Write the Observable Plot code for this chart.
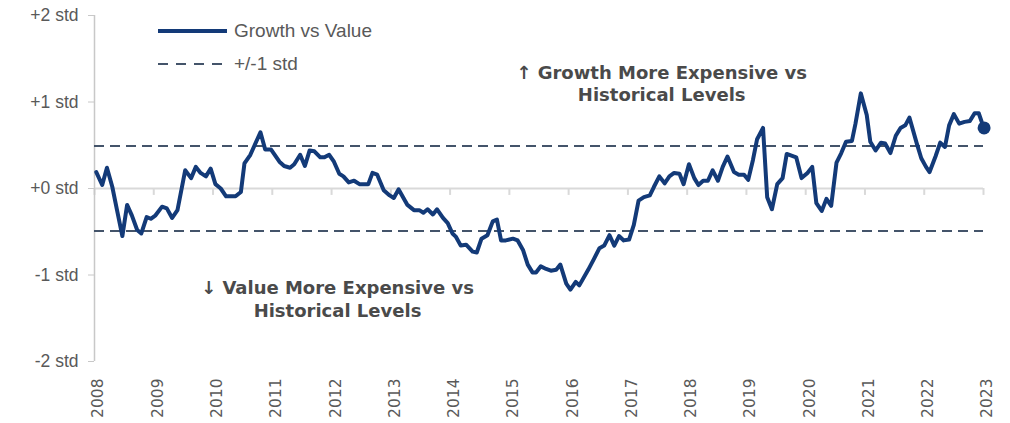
<!DOCTYPE html>
<html><head><meta charset="utf-8">
<script src="https://cdn.jsdelivr.net/npm/d3@7"></script>
<script src="https://cdn.jsdelivr.net/npm/@observablehq/plot@0.6"></script>
<style>
body{margin:0;background:#fff;}
#wrap{position:relative;width:1010px;height:423px;overflow:hidden;}
.legend{position:absolute;left:158px;top:14px;font-family:"Liberation Sans",Arial,sans-serif;font-size:19px;color:#595959;}
.legend .row{display:flex;align-items:center;height:33px;}
.legend svg{margin-right:6px;}
</style></head><body><div id="wrap"></div>
<script>
const dates = [2008.03,2008.13,2008.21,2008.30,2008.38,2008.47,2008.55,2008.63,2008.72,2008.79,2008.88,2008.95,
2009.03,2009.14,2009.22,2009.31,2009.40,2009.53,2009.63,2009.71,2009.79,2009.88,2009.96,
2010.04,2010.13,2010.22,2010.38,2010.47,2010.53,2010.63,2010.80,2010.88,2010.98,
2011.12,2011.20,2011.30,2011.37,2011.47,2011.55,2011.63,2011.71,2011.81,2011.88,2011.96,
2012.04,2012.13,2012.20,2012.29,2012.38,2012.47,2012.62,2012.69,2012.77,2012.88,2012.98,
2013.05,2013.13,2013.28,2013.39,2013.48,2013.55,2013.62,2013.71,2013.78,2013.88,2013.96,
2014.04,2014.10,2014.18,2014.27,2014.38,2014.45,2014.53,2014.63,2014.72,2014.79,2014.86,2014.94,
2015.06,2015.14,2015.23,2015.31,2015.39,2015.45,2015.53,2015.62,2015.70,2015.79,2015.86,2015.96,
2016.03,2016.12,2016.18,2016.33,2016.43,2016.52,2016.60,2016.69,2016.77,2016.85,2016.93,
2017.02,2017.10,2017.18,2017.27,2017.37,2017.44,2017.53,2017.62,2017.70,2017.78,2017.87,2017.94,
2018.03,2018.12,2018.19,2018.27,2018.35,2018.43,2018.52,2018.60,2018.68,2018.79,2018.87,2018.96,
2019.03,2019.11,2019.18,2019.28,2019.35,2019.43,2019.52,2019.61,2019.68,2019.76,2019.84,2019.93,
2020.03,2020.11,2020.18,2020.27,2020.35,2020.43,2020.52,2020.60,2020.68,2020.78,2020.84,2020.93,
2021.03,2021.09,2021.18,2021.27,2021.34,2021.43,2021.52,2021.60,2021.68,2021.75,2021.87,2021.95,
2022.03,2022.09,2022.19,2022.27,2022.35,2022.42,2022.50,2022.59,2022.68,2022.77,2022.85,2022.92,2022.97,2023.01];

const values = [0.19,0.04,0.24,0.02,-0.25,-0.55,-0.19,-0.31,-0.48,-0.52,-0.33,-0.35,
-0.31,-0.21,-0.23,-0.34,-0.25,0.21,0.12,0.25,0.18,0.14,0.23,
0.05,0.0,-0.09,-0.09,-0.04,0.29,0.39,0.65,0.45,0.45,
0.31,0.26,0.24,0.28,0.39,0.26,0.44,0.43,0.36,0.36,0.39,
0.31,0.17,0.14,0.07,0.09,0.05,0.05,0.18,0.16,-0.02,-0.08,
-0.11,-0.01,-0.19,-0.25,-0.25,-0.28,-0.24,-0.30,-0.24,-0.34,-0.40,
-0.52,-0.56,-0.66,-0.65,-0.73,-0.74,-0.58,-0.54,-0.38,-0.36,-0.60,-0.60,
-0.58,-0.60,-0.71,-0.88,-0.97,-0.97,-0.90,-0.93,-0.95,-0.94,-0.88,-1.10,
-1.17,-1.08,-1.12,-0.94,-0.81,-0.69,-0.66,-0.54,-0.66,-0.55,-0.60,
-0.59,-0.42,-0.14,-0.10,-0.08,0.02,0.14,0.06,0.14,0.18,0.17,0.05,
0.28,0.12,0.04,0.09,0.09,0.21,0.09,0.25,0.37,0.19,0.16,0.16,
0.10,0.33,0.57,0.70,-0.10,-0.24,0.05,0.12,0.40,0.38,0.36,0.12,
0.18,0.25,-0.17,-0.26,-0.12,-0.20,0.30,0.41,0.54,0.55,0.75,1.10,
0.85,0.54,0.44,0.53,0.52,0.41,0.61,0.70,0.73,0.82,0.53,0.35,
0.25,0.19,0.37,0.53,0.48,0.73,0.86,0.75,0.77,0.78,0.87,0.87,0.77,0.70];

const xTicks = [2008,2009,2010,2011,2012,2013,2014,2015,2016,2017,2018,2019,2020,2021,2022,2023];
const yTicks = [-2,-1,0,1,2];
const yTickLabels = ["-2 std","-1 std","+0 std","+1 std","+2 std"];
const bandLevels = [0.49,-0.49];
const seriesNames = ["Growth vs Value","+/-1 std"];
const noteLabels = ["↑ Growth More Expensive vs\nHistorical Levels","↓ Value More Expensive vs\nHistorical Levels"];
const noteX = [2017.57,2012.1];
const noteY = [1.22,-1.27];

const navy = "#133a78";
const slate = "#44546a";

const data = dates.map((t,i)=>({t, v: values[i]}));
const last = data[data.length-1];
const notes = noteLabels.map((label,i)=>({label, x: noteX[i], y: noteY[i]}));

const chart = Plot.plot({
  width:1010, height:423,
  marginLeft:94, marginRight:27, marginTop:15, marginBottom:62,
  style:{fontFamily:"'Liberation Sans', Arial, sans-serif", background:"#fff", color:"#595959", overflow:"visible"},
  x:{domain:[2008,2023]},
  y:{domain:[-2,2]},
  marks:[
    Plot.ruleY([0], {stroke:"#d9d9d9", strokeWidth:2}),
    Plot.ruleX(xTicks, {x:d=>d, y1:0, y2:-0.08, stroke:"#d9d9d9", strokeWidth:2}),
    Plot.ruleX([2008], {stroke:"#c8c8c8", strokeWidth:1.5}),
    Plot.axisY({ticks:yTicks, tickFormat:d=>yTickLabels[yTicks.indexOf(d)], tickSize:6, tickPadding:10,
      fontSize:17.5, stroke:"#c8c8c8", fill:"#595959", label:null}),
    Plot.axisX({ticks:xTicks, tickFormat:d=>String(d), tickSize:0, tickPadding:17, tickRotate:-90,
      fontSize:15.5, fontFamily:"DejaVu Sans", fill:"#595959", dx:4, label:null}),
    Plot.ruleY(bandLevels, {stroke:slate, strokeWidth:2, strokeDasharray:"10,6"}),
    Plot.line(data, {x:"t", y:"v", stroke:navy, strokeWidth:4, strokeLinejoin:"round"}),
    Plot.dot([last], {x:"t", y:"v", r:6.5, fill:navy, stroke:"none"}),
    Plot.text(notes, {x:"x", y:"y", text:"label", fontWeight:"bold", fontSize:18,
      fill:"#4a4a4a", fontFamily:"DejaVu Sans", lineHeight:1.25})
  ]
});

const wrap = document.getElementById("wrap");
wrap.appendChild(chart);

const legend = document.createElement("div");
legend.className = "legend";
legend.innerHTML = `
<div class="row"><svg width="70" height="10"><line x1="0" y1="5" x2="69" y2="5" stroke="${navy}" stroke-width="4"/></svg><span>${seriesNames[0]}</span></div>
<div class="row"><svg width="70" height="10"><line x1="0" y1="5" x2="66" y2="5" stroke="${slate}" stroke-width="2" stroke-dasharray="10,8"/></svg><span>${seriesNames[1]}</span></div>`;
wrap.appendChild(legend);
</script>
</body></html>
